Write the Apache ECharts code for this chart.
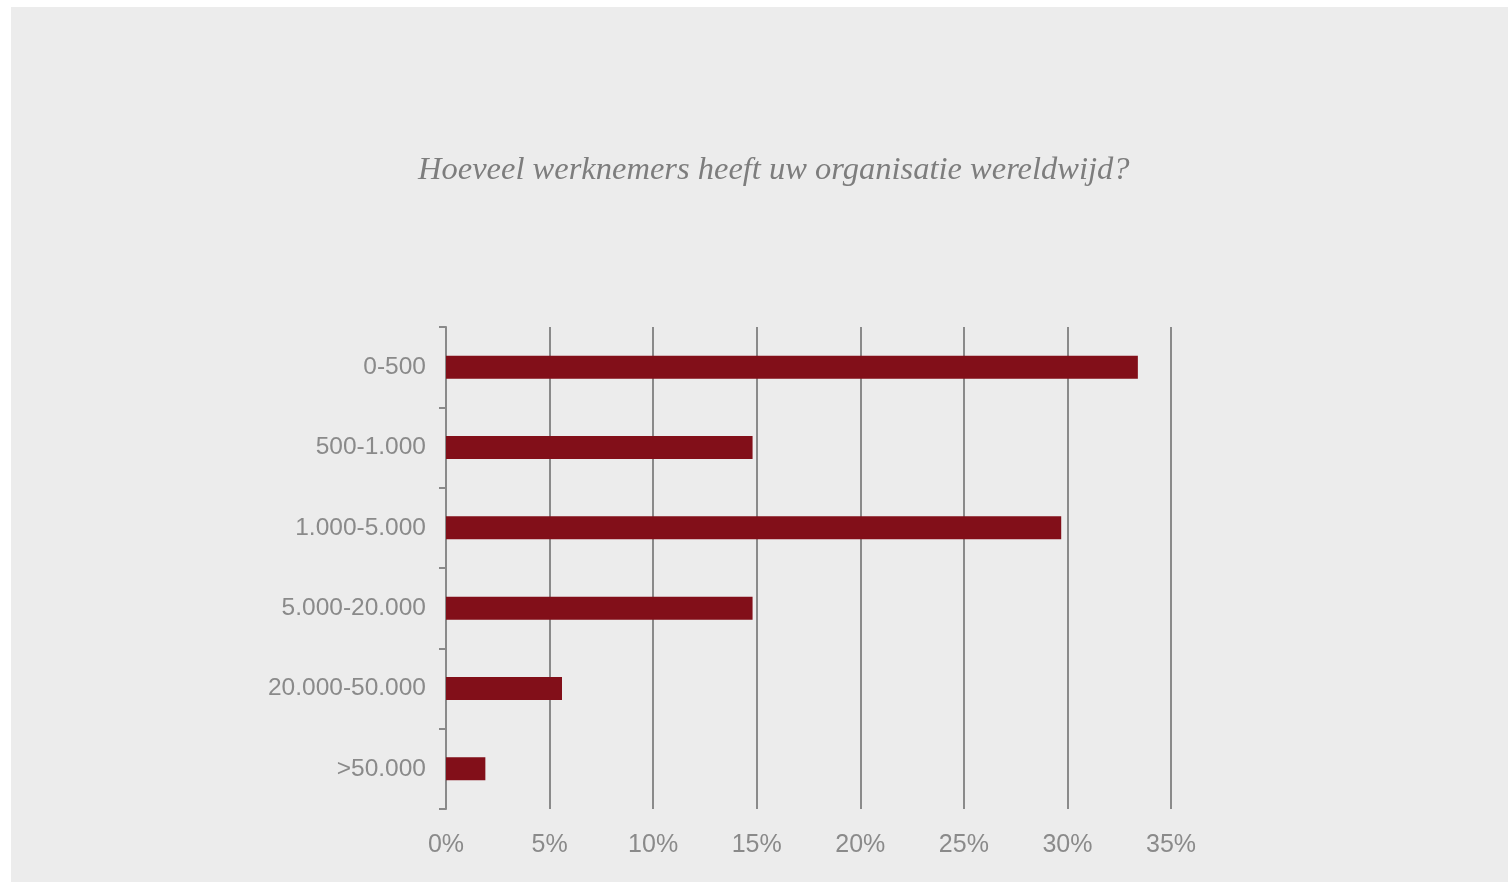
<!DOCTYPE html>
<html>
<head>
<meta charset="utf-8">
<script src="https://cdn.jsdelivr.net/npm/echarts@6/dist/echarts.min.js"></script>
<style>
  html, body { margin: 0; padding: 0; background: #fff; }
  #chart { position: absolute; left: 11px; top: 7px; width: 1497px; height: 875px; background: #ececec; }
</style>
</head>
<body>
<div id="chart"></div>
<script>
  let categories = ['0-500', '500-1.000', '1.000-5.000', '5.000-20.000', '20.000-50.000', '>50.000'];
  let values = [33.4, 14.8, 29.7, 14.8, 5.6, 1.9];
  let xTicks = [0, 5, 10, 15, 20, 25, 30, 35];

  let myChart = echarts.init(document.getElementById('chart'));

  let option = {
    backgroundColor: '#ececec',
    title: {
      text: 'Hoeveel werknemers heeft uw organisatie wereldwijd?',
      left: 402,
      top: 142,
      textStyle: {
        fontFamily: 'Liberation Serif',
        fontStyle: 'italic',
        fontWeight: 'normal',
        fontSize: 32.5,
        color: '#7d7d7d'
      }
    },
    grid: {
      left: 435,
      right: 337,
      top: 320,
      bottom: 73
    },
    xAxis: {
      type: 'value',
      min: xTicks[0],
      max: xTicks[xTicks.length - 1],
      interval: 5,
      axisLine: { show: false },
      axisTick: { show: false },
      splitLine: { lineStyle: { color: '#8a8a8a', width: 2 } },
      axisLabel: {
        formatter: '{value}%',
        fontFamily: 'Liberation Sans',
        fontSize: 25,
        color: '#8a8a8a',
        margin: 24
      }
    },
    yAxis: {
      type: 'category',
      inverse: true,
      data: categories,
      axisLine: { lineStyle: { color: '#8a8a8a', width: 2 } },
      axisTick: { show: true, length: 7, lineStyle: { color: '#8a8a8a', width: 2 } },
      axisLabel: {
        fontFamily: 'Liberation Sans',
        fontSize: 24.5,
        color: '#8a8a8a',
        margin: 20,
        lineHeight: 28,
        padding: [5, 0, 0, 0]
      }
    },
    series: [{
      type: 'bar',
      data: values,
      barWidth: 23,
      itemStyle: { color: '#820f19' },
      silent: true
    }]
  };
  myChart.setOption(option);
</script>
</body>
</html>
